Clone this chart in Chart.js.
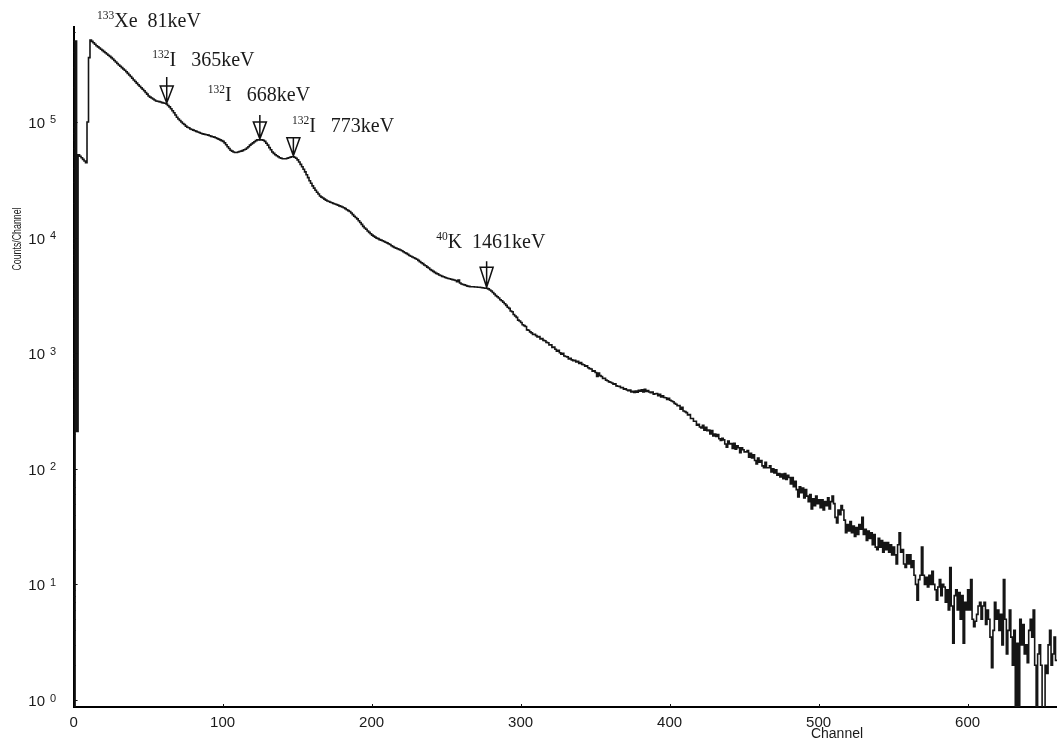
<!DOCTYPE html>
<html>
<head>
<meta charset="utf-8">
<title>Gamma spectrum</title>
<script src="https://cdn.jsdelivr.net/npm/chart.js@4"></script>
<style>
  html, body { margin: 0; padding: 0; background: #fff; }
  #wrap { width: 1057px; height: 742px; position: relative; }
</style>
</head>
<body>
<div id="wrap"><canvas id="spectrum"></canvas></div>
<script>
// counts per channel, channel 0 .. 660
const counts = [
  0.5, 5.0e5, 210, 5.2e4, 5.05e4, 4.9e4, 4.75e4, 4.6e4, 4.45e4, 1.0e5,
  3.6e5, 5.12e5, 4.98e5, 4.85e5, 4.7e5, 4.56e5, 4.46e5, 4.36e5, 4.26e5, 4.16e5,
  4.06e5, 3.97e5, 3.87e5, 3.78e5, 3.69e5, 3.6e5, 3.5e5, 3.4e5, 3.3e5, 3.2e5,
  3.11e5, 3.03e5, 2.95e5, 2.87e5, 2.8e5, 2.72e5, 2.63e5, 2.55e5, 2.47e5, 2.39e5,
  2.31e5, 2.24e5, 2.17e5, 2.1e5, 2.04e5, 1.98e5, 1.92e5, 1.86e5, 1.8e5, 1.74e5,
  1.68e5, 1.64e5, 1.61e5, 1.58e5, 1.55e5, 1.52e5, 1.51e5, 1.5e5, 1.49e5, 1.47e5,
  1.46e5, 1.45e5, 1.43e5, 1.39e5, 1.35e5, 1.3e5, 1.25e5, 1.2e5, 1.15e5, 1.1e5,
  1.06e5, 1.03e5, 1.0e5, 9.7e4, 9.5e4, 9.2e4, 9.0e4, 8.9e4, 8.7e4, 8.6e4,
  8.5e4, 8.4e4, 8.3e4, 8.2e4, 8.1e4, 8.0e4, 7.9e4, 7.85e4, 7.8e4, 7.75e4,
  7.7e4, 7.6e4, 7.5e4, 7.45e4, 7.4e4, 7.3e4, 7.2e4, 7.1e4, 7.0e4, 6.9e4,
  6.8e4, 6.6e4, 6.35e4, 6.1e4, 5.9e4, 5.7e4, 5.6e4, 5.5e4, 5.45e4, 5.45e4,
  5.5e4, 5.55e4, 5.6e4, 5.65e4, 5.75e4, 5.8e4, 5.95e4, 6.1e4, 6.3e4, 6.45e4,
  6.6e4, 6.75e4, 6.9e4, 7.0e4, 7.0e4, 7.0e4, 7.0e4, 6.95e4, 6.8e4, 6.55e4,
  6.3e4, 6.0e4, 5.75e4, 5.5e4, 5.35e4, 5.2e4, 5.1e4, 5.0e4, 4.9e4, 4.85e4,
  4.8e4, 4.8e4, 4.8e4, 4.85e4, 4.9e4, 4.95e4, 5.0e4, 5.0e4, 4.95e4, 4.85e4,
  4.7e4, 4.5e4, 4.3e4, 4.1e4, 3.9e4, 3.7e4, 3.5e4, 3.3e4, 3.1e4, 2.95e4,
  2.8e4, 2.68e4, 2.57e4, 2.47e4, 2.38e4, 2.29e4, 2.24e4, 2.2e4, 2.15e4, 2.11e4,
  2.07e4, 2.05e4, 2.02e4, 2.0e4, 1.97e4, 1.95e4, 1.93e4, 1.91e4, 1.88e4, 1.86e4,
  1.84e4, 1.81e4, 1.78e4, 1.74e4, 1.71e4, 1.68e4, 1.63e4, 1.58e4, 1.53e4, 1.49e4,
  1.45e4, 1.4e4, 1.35e4, 1.3e4, 1.25e4, 1.21e4, 1.18e4, 1.14e4, 1.11e4, 1.08e4,
  1.05e4, 1.03e4, 1.01e4, 9.9e3, 9.8e3, 9.6e3, 9.5e3, 9.4e3, 9.25e3, 9.1e3,
  9.0e3, 8.85e3, 8.7e3, 8.5e3, 8.35e3, 8.2e3, 8.1e3, 8.0e3, 7.9e3, 7.8e3,
  7.7e3, 7.55e3, 7.4e3, 7.3e3, 7.15e3, 7.0e3, 6.9e3, 6.8e3, 6.7e3, 6.6e3,
  6.5e3, 6.35e3, 6.2e3, 6.05e3, 5.95e3, 5.8e3, 5.7e3, 5.55e3, 5.45e3, 5.3e3,
  5.2e3, 5.1e3, 5.0e3, 4.9e3, 4.85e3, 4.75e3, 4.7e3, 4.62e3, 4.58e3, 4.52e3,
  4.47e3, 4.43e3, 4.4e3, 4.36e3, 4.33e3, 4.3e3, 4.25e3, 4.15e3, 4.3e3, 4.05e3,
  3.97e3, 3.93e3, 3.9e3, 3.85e3, 3.8e3, 3.78e3, 3.76e3, 3.75e3, 3.75e3, 3.74e3,
  3.74e3, 3.72e3, 3.72e3, 3.7e3, 3.68e3, 3.66e3, 3.65e3, 3.64e3, 3.6e3, 3.52e3,
  3.45e3, 3.35e3, 3.25e3, 3.15e3, 3.08e3, 3.0e3, 2.9e3, 2.84e3, 2.76e3, 2.68e3,
  2.59e3, 2.5e3, 2.44e3, 2.32e3, 2.28e3, 2.16e3, 2.1e3, 2.04e3, 1.93e3, 1.9e3,
  1.84e3, 1.76e3, 1.73e3, 1.7e3, 1.59e3, 1.58e3, 1.53e3, 1.5e3, 1.45e3, 1.46e3,
  1.42e3, 1.38e3, 1.39e3, 1.33e3, 1.34e3, 1.29e3, 1.28e3, 1.24e3, 1.23e3, 1.18e3,
  1.18e3, 1.12e3, 1.13e3, 1.08e3, 1.04e3, 1.06e3, 1010, 980, 1000, 945,
  935, 930, 890, 905, 875, 860, 868, 840, 850, 815,
  828, 800, 795, 770, 778, 748, 735, 730, 700, 705,
  680, 630, 672, 640, 628, 605, 606, 585, 578, 565,
  560, 552, 538, 544, 522, 518, 516, 502, 505, 488,
  492, 480, 474, 480, 463, 468, 458, 470, 460, 478,
  468, 482, 462, 488, 466, 474, 462, 455, 460, 442,
  446, 448, 428, 440, 418, 428, 414, 412, 398, 408,
  392, 386, 380, 368, 362, 352, 352, 328, 340, 316,
  312, 306, 292, 294, 272, 272, 258, 258, 238, 242,
  230, 226, 238, 216, 228, 214, 216, 200, 214, 192,
  200, 190, 198, 182, 176, 184, 178, 164, 154, 174,
  164, 165, 150, 166, 148, 158, 152, 138, 152, 146,
  140, 140, 144, 126, 136, 124, 132, 118, 110, 124,
  114, 118, 106, 102, 114, 102, 102, 106, 94, 100,
  92, 98, 88, 91, 85, 90, 82, 91, 81, 88,
  84, 74, 84, 70, 78, 66, 57, 70, 62, 68,
  56, 66, 58, 52, 60, 45, 55, 48, 58, 50,
  54, 46, 54, 44, 52, 48, 56, 45, 52, 58,
  50, 38, 34, 44, 40, 48, 44, 36, 28, 33,
  29, 35, 28, 32, 26, 31, 27, 33, 30, 38,
  27, 30, 24, 29, 25, 28, 22, 27, 21, 20,
  25, 21, 24, 19, 23, 20, 23, 19, 22, 18,
  21, 18, 15, 22, 28, 19, 20, 15, 14, 18,
  15, 18, 14, 16, 12, 10, 7.3, 11, 12, 21,
  12, 10, 11.5, 9.5, 12, 10, 13, 10, 9, 7.3,
  9.5, 11, 8, 10, 9.5, 7, 9, 6, 14, 6.5,
  3.1, 8, 9, 6, 8.5, 5, 8, 3.1, 7, 6,
  9, 6, 11, 5, 4.3, 4.8, 5.5, 6.5, 7, 5,
  6.5, 7, 4.5, 6, 5, 3.5, 1.9, 4, 7, 5,
  6, 4, 5.5, 3, 11, 5, 2.5, 4, 6, 3.5,
  2, 4, 0.5, 3.1, 0.5, 5, 3, 4.5, 2.5, 3,
  2.1, 4, 5, 3.5, 6, 2, 0.5, 2.5, 3, 2,
  0.5, 0.5, 2, 1.7, 3, 4, 2, 2.5, 3.5, 2.2,
  2.2
];
const channels = counts.map((_, i) => i);

// axis ticks
const xTicks = [0, 100, 200, 300, 400, 500, 600];
const yExponents = [0, 1, 2, 3, 4, 5];

// peak identifications
const peakMass = ['133', '132', '132', '132', '40'];
const peakNames = ['Xe  81keV', 'I   365keV', 'I   668keV', 'I   773keV', 'K  1461keV'];
const peakChannels = [11, 62.5, 125, 147.5, 277.2];

// label offsets from the marker tip, marker stem and triangle size
const peakLayout = [
  { dx: 7, dy: -12, arrow: false },
  { dx: -14.5, dy: -37, stem: 9, tri: 17 },
  { dx: -52, dy: -37.5, stem: 7, tri: 17 },
  { dx: -1.5, dy: -24, stem: 0, tri: 18 },
  { dx: -50.5, dy: -39, stem: 6, tri: 20 }
];

const SANS = '"Liberation Sans", Arial, sans-serif';
const SERIF = '"Liberation Serif", "Times New Roman", serif';

const decorations = {
  id: 'decorations',
  afterDraw(chart) {
    const { ctx, chartArea: area } = chart;
    const xs = chart.scales.x, ys = chart.scales.y;
    ctx.save();
    ctx.fillStyle = '#1a1a1a';
    ctx.strokeStyle = '#111';
    ctx.lineWidth = 1;

    // y axis: decade labels and inner tick marks
    for (const e of yExponents) {
      const py = ys.getPixelForValue(Math.pow(10, e));
      ctx.font = '15px ' + SANS;
      ctx.textAlign = 'right';
      ctx.textBaseline = 'alphabetic';
      ctx.fillText('10', 45, py + 6);
      ctx.font = '11px ' + SANS;
      ctx.textAlign = 'left';
      ctx.fillText(String(e), 50, py + 1.5);
      ctx.beginPath();
      ctx.moveTo(area.left, Math.round(py) + 0.5);
      ctx.lineTo(area.left + 4, Math.round(py) + 0.5);
      ctx.stroke();
      for (let k = 2; k <= 9; k++) {
        const v = k * Math.pow(10, e);
        if (v > ys.max) break;
        const my = Math.round(ys.getPixelForValue(v)) + 0.5;
        ctx.beginPath();
        ctx.moveTo(area.left, my);
        ctx.lineTo(area.left + 2, my);
        ctx.stroke();
      }
    }

    // x axis: labels and small ticks
    ctx.font = '15px ' + SANS;
    ctx.textAlign = 'center';
    for (const t of xTicks) {
      const px = xs.getPixelForValue(t);
      ctx.fillText(String(t), px, 727);
      ctx.beginPath();
      ctx.moveTo(Math.round(px) + 0.5, area.bottom);
      ctx.lineTo(Math.round(px) + 0.5, area.bottom - 3);
      ctx.stroke();
    }

    // axis titles
    ctx.font = '14px ' + SANS;
    ctx.fillText('Channel', 837, 738);
    ctx.save();
    ctx.translate(21, 239);
    ctx.rotate(-Math.PI / 2);
    ctx.font = '13px ' + SANS;
    ctx.fillText('Counts/Channel', 0, 0, 63);
    ctx.restore();

    // peak markers and labels
    ctx.lineWidth = 1.5;
    ctx.textAlign = 'left';
    peakChannels.forEach((ch, i) => {
      const lay = peakLayout[i];
      const cx = xs.getPixelForValue(ch);
      const tip = ys.getPixelForValue(counts[Math.floor(ch)]) - 1;
      if (lay.arrow !== false) {
        const half = 6.5;
        ctx.beginPath();
        ctx.moveTo(cx - half, tip - lay.tri);
        ctx.lineTo(cx + half, tip - lay.tri);
        ctx.lineTo(cx, tip);
        ctx.closePath();
        ctx.moveTo(cx, tip - lay.tri - lay.stem);
        ctx.lineTo(cx, tip);
        ctx.stroke();
      }
      const tx = cx + lay.dx, ty = tip + lay.dy;
      ctx.font = '11.5px ' + SERIF;
      ctx.fillText(peakMass[i], tx, ty - 8);
      const w = ctx.measureText(peakMass[i]).width;
      ctx.font = '20px ' + SERIF;
      ctx.fillText(peakNames[i], tx + w, ty);
    });
    ctx.restore();
  }
};

new Chart(document.getElementById('spectrum'), {
  type: 'line',
  data: {
    datasets: [{
      label: 'Counts/Channel',
      data: channels.map(ch => ({ x: ch, y: counts[ch] })),
      borderColor: '#151515',
      borderWidth: 1.6,
      stepped: 'before',
      pointRadius: 0,
      fill: false
    }]
  },
  options: {
    responsive: true,
    maintainAspectRatio: false,
    animation: false,
    events: [],
    layout: { padding: { top: 27, left: 0, right: 0, bottom: 0 } },
    plugins: {
      legend: { display: false },
      tooltip: { enabled: false }
    },
    scales: {
      x: {
        type: 'linear',
        min: 0,
        max: 660,
        grid: { display: false },
        ticks: { display: false },
        border: { display: true, color: '#000', width: 2 },
        afterFit(scale) { scale.height = 35; }
      },
      y: {
        type: 'logarithmic',
        min: 0.87,
        max: 6.63e5,
        grid: { display: false },
        ticks: { display: false },
        border: { display: true, color: '#000', width: 2 },
        afterFit(scale) { scale.width = 73.6; }
      }
    }
  },
  plugins: [decorations]
});
</script>
</body>
</html>
